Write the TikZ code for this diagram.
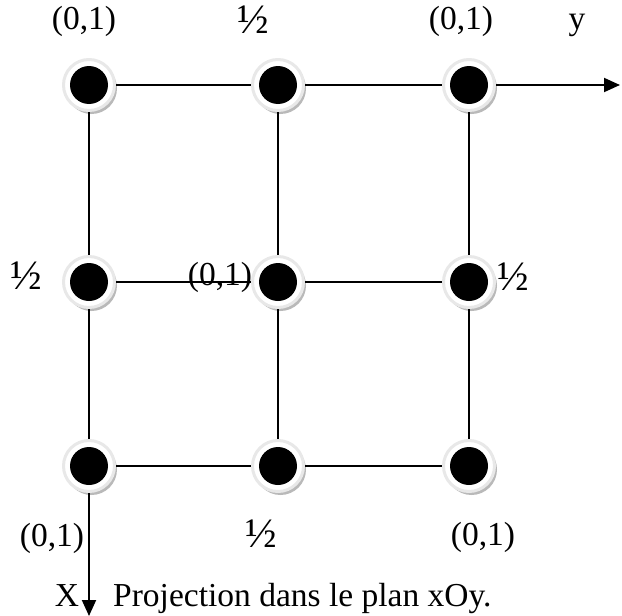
\documentclass[tikz,border=0pt]{standalone}
\usepackage{fontspec}
\setmainfont{Liberation Serif}
\usetikzlibrary{shadows,arrows.meta}
\begin{document}
\begin{tikzpicture}[x=1pt,y=-1pt,
  gdot/.style={circle,minimum size=51pt,inner sep=0pt,fill=white,draw=gray!18,line width=3pt,
    drop shadow={shadow xshift=2.5pt,shadow yshift=-3.5pt,fill=gray!55,opacity=1},
    path picture={\fill[black] (path picture bounding box.center) circle (19pt);}},
  lbl/.style={inner sep=0pt,font=\fontsize{33.5}{38}\selectfont},
  half/.style={inner sep=0pt,font=\fontsize{42}{46}\selectfont},
  conn/.style={line width=1.9pt},
  axis/.style={line width=1.9pt,-{Triangle[length=16pt,width=14pt]}}]
\useasboundingbox (0,0) rectangle (622,616);
\node[gdot] (a1) at (89,85) {};
\node[gdot] (a2) at (278,85) {};
\node[gdot] (a3) at (469,85) {};
\node[gdot] (b1) at (89,282) {};
\node[gdot] (b2) at (278,282) {};
\node[gdot] (b3) at (469,282) {};
\node[gdot] (c1) at (89,466) {};
\node[gdot] (c2) at (278,466) {};
\node[gdot] (c3) at (469,466) {};
\coordinate (yend) at (620,85);
\coordinate (xend) at (89,616);
\draw[axis] (a3) -- (yend);
\draw[axis] (c1) -- (xend);
\draw[conn] (a1) -- (a2);
\draw[conn] (a2) -- (a3);
\draw[conn] (b1) -- (b2);
\draw[conn] (b2) -- (b3);
\draw[conn] (c1) -- (c2);
\draw[conn] (c2) -- (c3);
\draw[conn] (a1) -- (b1);
\draw[conn] (b1) -- (c1);
\draw[conn] (a2) -- (b2);
\draw[conn] (b2) -- (c2);
\draw[conn] (a3) -- (b3);
\draw[conn] (b3) -- (c3);
% labels
\node[lbl] (l1) at (84,21) {(0,1)};
\node[half] (l2) at (253,20) {½};
\node[lbl] (l3) at (461,21) {(0,1)};
\node[lbl,anchor=base] (l4) at (577,29) {y};
\node[half] (l5) at (26,276) {½};
\node[lbl] (l6) at (220,277) {(0,1)};
\node[half] (l7) at (513,277) {½};
\node[lbl] (l8) at (52,538) {(0,1)};
\node[half] (l9) at (261,534) {½};
\node[lbl] (l10) at (483,537) {(0,1)};
\node[lbl,anchor=base] (lx) at (67,606) {X};
\node[lbl,anchor=base west] (lp) at (113,606) {Projection dans le plan xOy.};
\end{tikzpicture}
\end{document}
